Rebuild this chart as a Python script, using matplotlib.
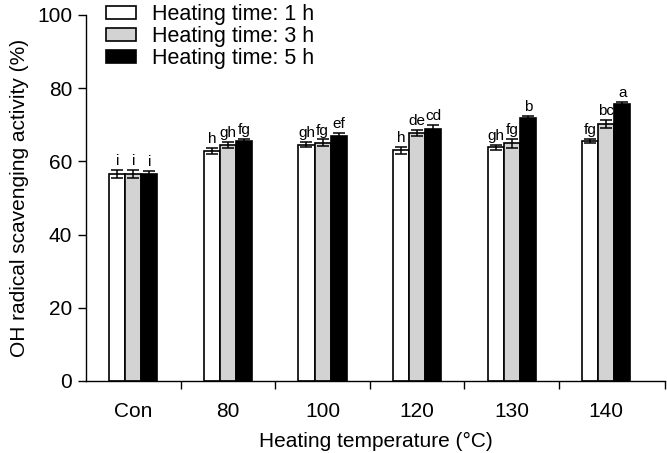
import numpy as np
import matplotlib
matplotlib.use("Agg")
import matplotlib.pyplot as plt

plt.rcParams['font.family'] = ['Liberation Sans', 'DejaVu Sans']

# data
groups = ['Con', '80', '100', '120', '130', '140']
series_names = ['Heating time: 1 h', 'Heating time: 3 h', 'Heating time: 5 h']
h1 = [56.6, 62.8, 64.6, 63.0, 63.8, 65.6]
h3 = [56.6, 64.4, 65.1, 67.8, 64.9, 70.2]
h5 = [56.5, 65.6, 66.8, 68.9, 71.8, 75.6]
err1 = [1.1, 0.8, 0.7, 0.9, 0.7, 0.6]
err3 = [1.1, 0.8, 0.9, 0.9, 1.2, 1.2]
err5 = [1.0, 0.5, 1.0, 1.0, 0.7, 0.6]
lab1 = ['i', 'h', 'gh', 'h', 'gh', 'fg']
lab3 = ['i', 'gh', 'fg', 'de', 'fg', 'bc']
lab5 = ['i', 'fg', 'ef', 'cd', 'b', 'a']

colors = ['white', '#d3d3d3', 'black']

fig = plt.figure(figsize=(6.67, 4.53), dpi=100)
ax = fig.add_axes([0.129, 0.159, 0.868, 0.808])

x = np.arange(len(groups))
w = 0.17
for i, (vals, errs, labs) in enumerate(zip([h1, h3, h5], [err1, err3, err5], [lab1, lab3, lab5])):
    pos = x + (i - 1) * w
    ax.bar(pos, vals, w, color=colors[i], edgecolor='black', linewidth=1.2,
           label=series_names[i], zorder=2)
    ax.errorbar(pos, vals, yerr=errs, fmt='none', ecolor='black',
                elinewidth=1.1, capsize=4, capthick=1.1, zorder=3)
    for p, v, e, t in zip(pos, vals, errs, labs):
        ax.text(p, v + e + 0.5, t, ha='center', va='bottom', fontsize=11)

ax.set_xlim(-0.5, 5.62)
ax.set_ylim(0, 100)
ax.set_yticks(np.arange(0, 101, 20))
ax.set_xticks(x)
ax.set_xticklabels(groups)
ax.set_xticks(list(np.arange(0.5, 5.0, 1.0)) + [5.62], minor=True)
ax.tick_params(axis='x', which='major', length=0, pad=15, labelsize=15)
ax.tick_params(axis='x', which='minor', length=6, direction='out', width=1)
ax.tick_params(axis='y', length=6, direction='out', width=1, labelsize=15, pad=4)

for s in ['top', 'right']:
    ax.spines[s].set_visible(False)
ax.spines['left'].set_linewidth(1)
ax.spines['bottom'].set_linewidth(1)

ax.set_xlabel('Heating temperature (°C)', fontsize=15, labelpad=8)
ax.set_ylabel('OH radical scavenging activity (%)', fontsize=15, labelpad=6)

ax.legend(loc='upper left', bbox_to_anchor=(0.034, 1.03), frameon=False,
          fontsize=15.5, handlelength=1.4, handleheight=0.6,
          labelspacing=0.05, handletextpad=0.75, borderaxespad=0,
          borderpad=0)

fig.savefig('out.png', dpi=100)
